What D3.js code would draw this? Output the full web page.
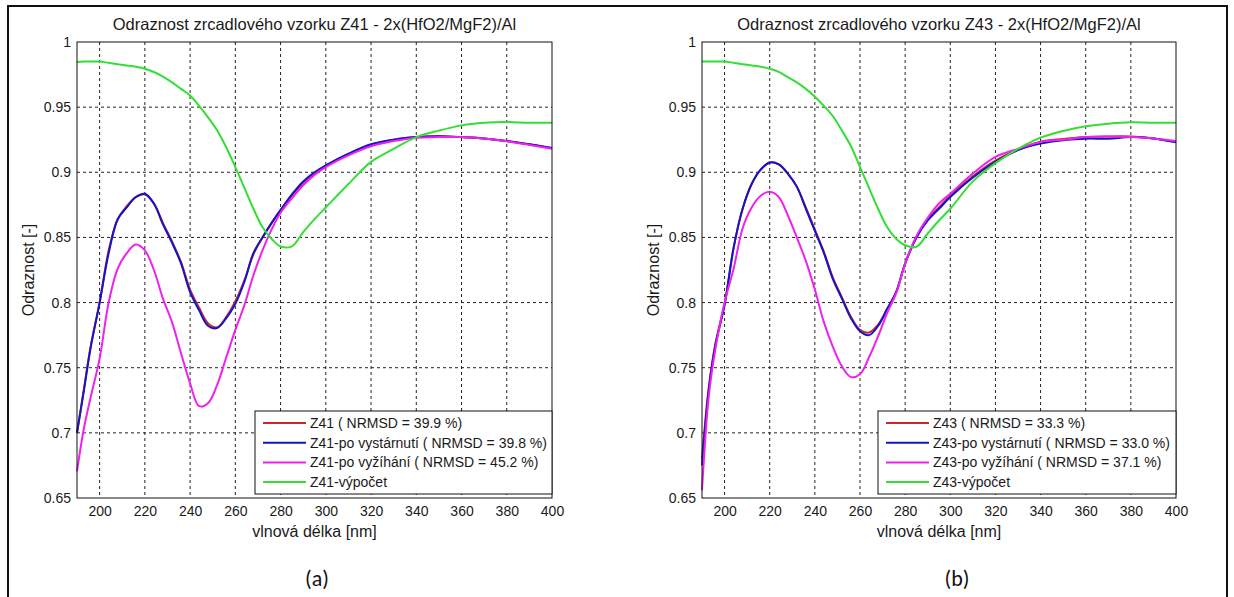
<!DOCTYPE html>
<html>
<head>
<meta charset="utf-8">
<script src="https://cdn.jsdelivr.net/npm/d3@7"></script>
<style>
  html, body { margin: 0; padding: 0; background: #fff; }
  svg { display: block; font-family: "Liberation Sans", Arial, sans-serif; }
</style>
</head>
<body>
<svg id="chart" width="1234" height="597"></svg>
<script>
// Sample wavelengths [nm] shared by every measured / computed spectrum
const wavelength = [190,193,196,200,204,208,212,216,220,224,228,232,236,240,244,248,252,256,260,264,268,272,276,280,285,290,295,300,310,320,330,340,350,360,370,380,390,400];

// Sample Z41 reflectance
const z41Measured = [0.700,0.733,0.766,0.800,0.840,0.864,0.874,0.881,0.883,0.876,0.861,0.847,0.831,0.810,0.796,0.784,0.781,0.789,0.801,0.817,0.837,0.850,0.861,0.871,0.882,0.892,0.899,0.905,0.914,0.921,0.925,0.927,0.9276,0.927,0.926,0.924,0.9215,0.9185];
const z41Aged     = [0.700,0.732,0.765,0.800,0.838,0.864,0.873,0.881,0.8835,0.876,0.860,0.846,0.830,0.808,0.794,0.782,0.7805,0.788,0.799,0.816,0.838,0.850,0.861,0.871,0.883,0.893,0.900,0.9054,0.9143,0.9215,0.925,0.927,0.9276,0.927,0.926,0.924,0.9215,0.9187];
const z41Annealed = [0.6705,0.703,0.727,0.757,0.800,0.826,0.838,0.8445,0.840,0.825,0.803,0.785,0.761,0.738,0.7205,0.723,0.737,0.758,0.779,0.798,0.821,0.840,0.856,0.869,0.880,0.890,0.898,0.904,0.913,0.920,0.924,0.9266,0.927,0.927,0.926,0.9238,0.921,0.918];
const z41Computed = [0.9847,0.985,0.985,0.985,0.984,0.983,0.982,0.981,0.9795,0.977,0.9735,0.969,0.964,0.959,0.951,0.942,0.932,0.919,0.904,0.888,0.872,0.858,0.849,0.843,0.8432,0.854,0.864,0.873,0.891,0.908,0.918,0.927,0.932,0.936,0.938,0.9386,0.938,0.938];

// Sample Z43 reflectance
const z43Measured = [0.680,0.735,0.769,0.799,0.842,0.872,0.891,0.902,0.9075,0.906,0.899,0.889,0.873,0.856,0.839,0.819,0.804,0.789,0.779,0.777,0.783,0.795,0.808,0.830,0.850,0.864,0.873,0.882,0.897,0.909,0.9175,0.9235,0.9255,0.927,0.9275,0.9275,0.926,0.9235];
const z43Aged     = [0.675,0.733,0.768,0.798,0.842,0.872,0.891,0.902,0.9075,0.906,0.899,0.889,0.872,0.855,0.838,0.818,0.803,0.788,0.778,0.775,0.782,0.795,0.808,0.830,0.850,0.863,0.872,0.881,0.896,0.908,0.917,0.922,0.9246,0.9258,0.9258,0.927,0.926,0.923];
const z43Annealed = [0.656,0.728,0.765,0.800,0.826,0.857,0.873,0.882,0.885,0.881,0.867,0.850,0.832,0.810,0.785,0.766,0.751,0.7428,0.745,0.758,0.774,0.792,0.807,0.830,0.851,0.865,0.876,0.8836,0.899,0.9118,0.918,0.9233,0.925,0.927,0.9275,0.927,0.926,0.924];
const z43Computed = [0.985,0.985,0.985,0.985,0.984,0.983,0.982,0.981,0.9795,0.977,0.973,0.969,0.964,0.958,0.951,0.943,0.932,0.920,0.904,0.888,0.872,0.858,0.849,0.844,0.8428,0.853,0.863,0.872,0.893,0.907,0.918,0.9266,0.9317,0.9353,0.9373,0.9384,0.938,0.938];

// Legend labels
const z41Labels = ["Z41 ( NRMSD = 39.9 %)", "Z41-po vystárnutí ( NRMSD = 39.8 %)", "Z41-po vyžíhání ( NRMSD = 45.2 %)", "Z41-výpočet"];
const z43Labels = ["Z43 ( NRMSD = 33.3 %)", "Z43-po vystárnutí ( NRMSD = 33.0 %)", "Z43-po vyžíhání ( NRMSD = 37.1 %)", "Z43-výpočet"];

// Axis ticks
const xTicks = [200,220,240,260,280,300,320,340,360,380,400];
const yTicks = [0.65,0.7,0.75,0.8,0.85,0.9,0.95,1];

const seriesColors = ["#cc2a2a", "#1414c8", "#ee22ee", "#35dd35"];

const panels = [
  { title: "Odraznost zrcadlového vzorku Z41 - 2x(HfO2/MgF2)/Al", series: [z41Measured, z41Aged, z41Annealed, z41Computed],
    labels: z41Labels, tag: "(a)", left: 77, right: 552, tagX: 317, legendLeft: 255 },
  { title: "Odraznost zrcadlového vzorku Z43 - 2x(HfO2/MgF2)/Al", series: [z43Measured, z43Aged, z43Annealed, z43Computed],
    labels: z43Labels, tag: "(b)", left: 702, right: 1176, tagX: 957, legendLeft: 878 }
];

const plotTop = 42, plotBottom = 498;
const svg = d3.select("#chart");

// outer frame
svg.append("rect").attr("x", 8).attr("y", 6).attr("width", 1219).attr("height", 620)
  .attr("fill", "none").attr("stroke", "#111").attr("stroke-width", 2);

panels.forEach(p => {
  const x = d3.scaleLinear().domain([190, 400]).range([p.left, p.right]);
  const y = d3.scaleLinear().domain([0.65, 1]).range([plotBottom, plotTop]);
  const g = svg.append("g");

  // dashed grid
  g.selectAll("line.gx").data(xTicks.filter(t => t < 400)).join("line")
    .attr("x1", d => x(d)).attr("x2", d => x(d)).attr("y1", plotTop).attr("y2", plotBottom)
    .attr("stroke", "#222").attr("stroke-width", 1).attr("stroke-dasharray", "3,3");
  g.selectAll("line.gy").data(yTicks.filter(t => t > 0.65 && t < 1)).join("line")
    .attr("x1", p.left).attr("x2", p.right).attr("y1", d => y(d)).attr("y2", d => y(d))
    .attr("stroke", "#222").attr("stroke-width", 1).attr("stroke-dasharray", "3,3");

  // axes (labels only, box drawn separately)
  const xAxis = g.append("g").attr("transform", `translate(0,${plotBottom})`)
    .call(d3.axisBottom(x).tickValues(xTicks).tickSize(0).tickPadding(8));
  const yAxis = g.append("g").attr("transform", `translate(${p.left},0)`)
    .call(d3.axisLeft(y).tickValues(yTicks).tickSize(0).tickPadding(6).tickFormat(d3.format("~g")));
  [xAxis, yAxis].forEach(a => {
    a.select(".domain").remove();
    a.selectAll("text").attr("font-size", 14).attr("fill", "#1a1a1a")
      .attr("font-family", "Liberation Sans, Arial, sans-serif");
  });

  // curves
  const line = d3.line().x((d, i) => x(wavelength[i])).y(d => y(d)).curve(d3.curveCatmullRom.alpha(0.5));
  p.series.forEach((vals, si) => {
    g.append("path").datum(vals).attr("d", line)
      .attr("fill", "none").attr("stroke", seriesColors[si]).attr("stroke-width", 2)
      .attr("stroke-linejoin", "round");
  });

  // plot box
  g.append("rect").attr("x", p.left).attr("y", plotTop).attr("width", p.right - p.left).attr("height", plotBottom - plotTop)
    .attr("fill", "none").attr("stroke", "#111").attr("stroke-width", 1);

  // legend
  const lg = g.append("g");
  const lgTop = 411, lgBottom = 494;
  lg.append("rect").attr("x", p.legendLeft).attr("y", lgTop).attr("width", p.right - p.legendLeft).attr("height", lgBottom - lgTop)
    .attr("fill", "#fff").attr("stroke", "#111").attr("stroke-width", 1);
  p.labels.forEach((lab, i) => {
    const cy = 423 + i * 19.7;
    lg.append("line").attr("x1", p.legendLeft + 8).attr("x2", p.legendLeft + 51).attr("y1", cy).attr("y2", cy)
      .attr("stroke", seriesColors[i]).attr("stroke-width", 2);
    lg.append("text").attr("x", p.legendLeft + 55).attr("y", cy + 5).attr("font-size", 14).attr("fill", "#1a1a1a").text(lab);
  });

  // titles and axis labels
  const cx = (p.left + p.right) / 2;
  g.append("text").attr("x", cx).attr("y", 30).attr("text-anchor", "middle").attr("font-size", 16.5).attr("fill", "#1a1a1a").text(p.title);
  g.append("text").attr("x", cx).attr("y", 537).attr("text-anchor", "middle").attr("font-size", 16).attr("fill", "#1a1a1a").text("vlnová délka [nm]");
  g.append("text").attr("transform", `translate(${p.left - 43},${(plotTop + plotBottom) / 2}) rotate(-90)`)
    .attr("text-anchor", "middle").attr("font-size", 16).attr("fill", "#1a1a1a").text("Odraznost [-]");
  g.append("text").attr("x", p.tagX).attr("y", 586).attr("text-anchor", "middle").attr("font-size", 22)
    .attr("font-family", "Carlito, 'Open Sans', sans-serif").attr("fill", "#111").text(p.tag);
});
</script>
</body>
</html>
